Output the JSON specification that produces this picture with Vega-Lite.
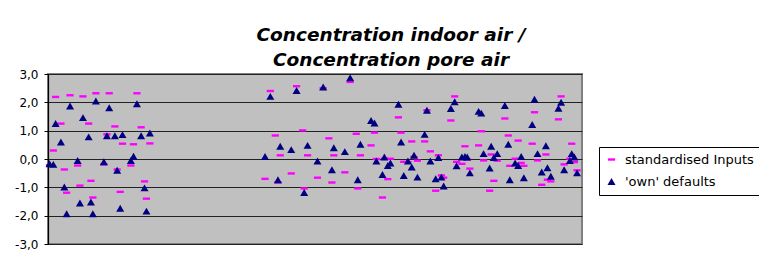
{
  "$schema": "https://vega.github.io/schema/vega-lite/v6.json",
  "width": 534,
  "height": 170,
  "autosize": {"type": "none"},
  "padding": {"left": 48, "top": 74, "right": 177, "bottom": 22},
  "background": "white",
  "title": {
    "text": ["Concentration indoor air /", "Concentration pore air"],
    "font": "DejaVu Sans",
    "fontSize": 18.5,
    "fontWeight": "bold",
    "fontStyle": "italic",
    "color": "#000000",
    "anchor": "middle",
    "frame": "group",
    "dx": 76,
    "offset": -1,
    "lineHeight": 25
  },
  "data": {
    "values": [
      {"x": 0.4, "std": -0.22, "own": -0.17},
      {"x": 1.4, "std": 0.30, "own": -0.19},
      {"x": 2.0, "std": 2.19, "own": 1.25},
      {"x": 3.4, "std": 1.25, "own": 0.60},
      {"x": 4.3, "std": -0.37, "own": -0.99},
      {"x": 4.9, "std": -1.19, "own": -1.93},
      {"x": 5.8, "std": 2.25, "own": 1.87},
      {"x": 7.8, "std": -0.23, "own": -0.05},
      {"x": 8.4, "std": -0.94, "own": -1.55},
      {"x": 9.2, "std": 2.21, "own": 1.46},
      {"x": 10.7, "std": 1.25, "own": 0.78},
      {"x": 11.3, "std": -0.77, "own": -1.52},
      {"x": 11.8, "std": -1.36, "own": -1.93},
      {"x": 12.6, "std": 2.32, "own": 2.05},
      {"x": 14.7, "std": -0.19, "own": -0.10},
      {"x": 15.5, "std": 0.87, "own": 0.82},
      {"x": 16.1, "std": 2.32, "own": 1.81},
      {"x": 17.6, "std": 1.15, "own": 0.82},
      {"x": 18.2, "std": -0.37, "own": -0.40},
      {"x": 19.0, "std": -1.16, "own": -1.74},
      {"x": 19.6, "std": 0.54, "own": 0.86},
      {"x": 21.8, "std": -0.23, "own": -0.05},
      {"x": 22.5, "std": 0.52, "own": 0.10},
      {"x": 23.4, "std": 2.32, "own": 1.95},
      {"x": 24.5, "std": 1.12, "own": 0.82},
      {"x": 25.4, "std": -0.79, "own": -1.02},
      {"x": 25.9, "std": -1.40, "own": -1.84},
      {"x": 26.8, "std": 0.55, "own": 0.92},
      {"x": 57.1, "std": -0.70, "own": 0.09},
      {"x": 58.5, "std": 2.40, "own": 2.21},
      {"x": 59.8, "std": 0.83, "own": null},
      {"x": 60.5, "std": -0.83, "own": -0.73},
      {"x": 61.1, "std": 0.13, "own": 0.45},
      {"x": 64.0, "std": -0.51, "own": 0.33},
      {"x": 65.4, "std": 2.57, "own": 2.42},
      {"x": 67.0, "std": 1.01, "own": null},
      {"x": 67.4, "std": -1.04, "own": -1.18},
      {"x": 68.3, "std": 0.13, "own": 0.48},
      {"x": 70.9, "std": -0.66, "own": -0.07},
      {"x": 72.4, "std": 2.50, "own": 2.54},
      {"x": 73.9, "std": 0.73, "own": null},
      {"x": 74.7, "std": -0.83, "own": -0.38},
      {"x": 75.2, "std": 0.13, "own": 0.40},
      {"x": 78.1, "std": -0.47, "own": 0.26},
      {"x": 79.5, "std": 2.72, "own": 2.87},
      {"x": 81.1, "std": 0.89, "own": null},
      {"x": 81.5, "std": -1.04, "own": -0.73},
      {"x": 82.2, "std": 0.13, "own": 0.52},
      {"x": 85.0, "std": 0.48, "own": 1.36},
      {"x": 85.9, "std": 0.93, "own": 1.27},
      {"x": 86.4, "std": 0.00, "own": -0.07},
      {"x": 88.0, "std": -1.36, "own": -0.55},
      {"x": 88.5, "std": 0.01, "own": 0.07},
      {"x": 89.4, "std": -0.71, "own": -0.23},
      {"x": 90.1, "std": 0.01, "own": -0.14},
      {"x": 92.2, "std": 1.47, "own": 1.93},
      {"x": 92.9, "std": 0.93, "own": 0.60},
      {"x": 93.6, "std": -0.10, "own": -0.58},
      {"x": 94.7, "std": -0.11, "own": -0.07},
      {"x": 95.7, "std": 0.62, "own": -0.28},
      {"x": 96.3, "std": 0.07, "own": 0.13},
      {"x": 97.2, "std": -0.06, "own": -0.64},
      {"x": 99.1, "std": 0.62, "own": 0.87},
      {"x": 99.7, "std": 1.72, "own": 1.72},
      {"x": 100.6, "std": 0.27, "own": -0.07},
      {"x": 102.0, "std": -1.12, "own": -0.70},
      {"x": 102.7, "std": 0.13, "own": 0.05},
      {"x": 103.5, "std": -0.58, "own": -0.64},
      {"x": 104.1, "std": -0.66, "own": -0.95},
      {"x": 106.0, "std": 1.36, "own": 1.78},
      {"x": 107.0, "std": 2.21, "own": 2.02},
      {"x": 107.5, "std": -0.10, "own": -0.24},
      {"x": 108.9, "std": -0.17, "own": 0.07},
      {"x": 109.7, "std": 0.45, "own": 0.09},
      {"x": 110.3, "std": -0.02, "own": 0.07},
      {"x": 111.0, "std": -0.34, "own": -0.49},
      {"x": 113.3, "std": 0.48, "own": 1.68},
      {"x": 114.0, "std": 0.98, "own": 1.62},
      {"x": 114.6, "std": -0.05, "own": 0.19},
      {"x": 116.2, "std": -1.12, "own": -0.32},
      {"x": 116.6, "std": 0.16, "own": 0.45},
      {"x": 117.3, "std": -0.77, "own": 0.05},
      {"x": 118.2, "std": -0.06, "own": 0.19},
      {"x": 120.2, "std": 1.43, "own": 1.89},
      {"x": 121.1, "std": 0.83, "own": 0.52},
      {"x": 121.5, "std": -0.24, "own": -0.73},
      {"x": 122.9, "std": 0.01, "own": -0.14},
      {"x": 123.7, "std": 0.65, "own": -0.23},
      {"x": 124.5, "std": -0.14, "own": 0.09},
      {"x": 125.2, "std": -0.24, "own": -0.66},
      {"x": 127.4, "std": 0.54, "own": 1.22},
      {"x": 128.0, "std": 1.65, "own": 2.11},
      {"x": 128.8, "std": -0.05, "own": 0.19},
      {"x": 129.9, "std": -0.91, "own": -0.46},
      {"x": 131.0, "std": 0.16, "own": 0.47},
      {"x": 131.4, "std": -0.73, "own": -0.31},
      {"x": 132.3, "std": -0.79, "own": -0.61},
      {"x": 134.3, "std": 1.40, "own": 1.79},
      {"x": 135.0, "std": 2.21, "own": 2.00},
      {"x": 135.8, "std": -0.19, "own": -0.38},
      {"x": 137.3, "std": 0.01, "own": -0.05},
      {"x": 137.8, "std": 0.54, "own": 0.19},
      {"x": 138.5, "std": -0.11, "own": 0.07},
      {"x": 139.2, "std": -0.40, "own": -0.49}
    ]
  },
  "transform": [
    {"fold": ["std", "own"], "as": ["series", "value"]},
    {"filter": "isValid(datum.value)"}
  ],
  "mark": {"type": "point", "filled": true, "size": 64, "opacity": 1, "strokeWidth": 0},
  "encoding": {
    "x": {
      "field": "x",
      "type": "quantitative",
      "scale": {"domain": [0, 140.5], "nice": false, "zero": false},
      "axis": null
    },
    "y": {
      "field": "value",
      "type": "quantitative",
      "scale": {"domain": [-3, 3], "nice": false, "zero": false},
      "axis": {
        "title": null,
        "values": [-3, -2, -1, 0, 1, 2, 3],
        "labelExpr": "replace(replace(format(datum.value, '.1f'), '.', ','), '\u2212', '-')",
        "grid": true,
        "gridColor": "#222222",
        "gridWidth": 1,
        "domainColor": "#000000",
        "domainWidth": 1.2,
        "tickColor": "#000000",
        "tickSize": 4,
        "labelFont": "DejaVu Sans",
        "labelFontSize": 12,
        "labelColor": "#000000",
        "labelPadding": 6
      }
    },
    "color": {
      "field": "series",
      "type": "nominal",
      "scale": {"domain": ["std", "own"], "range": ["#ff00ff", "#000080"]},
      "legend": {
        "title": null,
        "labelExpr": "datum.value == 'std' ? 'standardised Inputs' : \"'own' defaults\""
      }
    },
    "shape": {
      "field": "series",
      "type": "nominal",
      "scale": {"domain": ["std", "own"], "range": ["M-0.9,-0.3H0.9V0.3H-0.9Z", "triangle-up"]},
      "legend": {
        "title": null,
        "labelExpr": "datum.value == 'std' ? 'standardised Inputs' : \"'own' defaults\""
      }
    },
    "order": {"field": "series", "sort": "descending"}
  },
  "config": {
    "view": {"fill": "#c0c0c0", "stroke": "#808080", "strokeWidth": 2},
    "legend": {
      "orient": "none",
      "legendX": 551,
      "legendY": 73,
      "strokeColor": "#000000",
      "fillColor": "#ffffff",
      "padding": 6,
      "labelFont": "DejaVu Sans",
      "labelFontSize": 13,
      "labelColor": "#000000",
      "symbolSize": 64,
      "symbolStrokeWidth": 0,
      "rowPadding": 8,
      "labelOffset": 7
    }
  }
}
